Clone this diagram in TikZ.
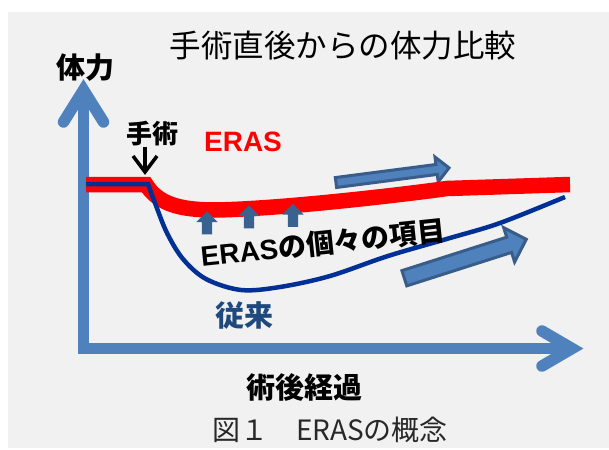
\documentclass[tikz,border=0pt]{standalone}
\usepackage{fontspec}
\setmainfont{Liberation Sans}
\newfontfamily\jp{Noto Sans CJK JP}
\usetikzlibrary{shapes.arrows}

\definecolor{panel}{RGB}{241,241,241}
\definecolor{axisblue}{RGB}{79,129,189}
\definecolor{edgeblue}{RGB}{56,93,138}
\definecolor{itemblue}{RGB}{58,98,145}
\definecolor{curveblue}{RGB}{0,48,150}
\definecolor{convblue}{RGB}{31,73,125}
\definecolor{captext}{RGB}{40,40,40}

\begin{document}
\begin{tikzpicture}[x=1pt, y=-1pt,
    lbl/.style = {inner sep=0pt, font=\jp\bfseries\fontsize{29}{29}\selectfont},
    axis/.style = {draw=axisblue, line width=11.5pt, miter limit=20},
    erasline/.style = {draw=red, line width=15.5pt},
    convline/.style = {draw=curveblue, line width=4.5pt},
    cutline/.style = {draw=black, line width=3.5pt},
    trend/.style = {single arrow, fill=axisblue, draw=edgeblue, line width=3pt, inner xsep=0pt},
    itemarrow/.style = {single arrow, fill=itemblue, inner xsep=0pt, inner ysep=5pt,
        single arrow head extend=5.5pt, minimum height=23pt, rotate=90}]
    \useasboundingbox (0,0) rectangle (609,449);
    \fill[white] (0,0) rectangle (609,449);
    \fill[panel] (8,12) rectangle (609,448);
    % axes
    \draw[axis] (83.5,92) -- (83.5,348.5) -- (570,348.5);
    \draw[axis, line cap=round] (63.5,122) -- (83.5,90) -- (103.5,122);
    \draw[axis, line cap=round] (542,331) -- (572,348.5) -- (542,366);
    % trend arrows
    \node[trend, minimum height=114pt, inner ysep=3.5pt, single arrow head extend=7.5pt, rotate=7.4] (trendup) at (390,175.5) {};
    \node[trend, minimum height=128pt, inner ysep=6.5pt, single arrow head extend=10pt, rotate=17.7] (trenddown) at (461.5,260) {};
    % curves
    \draw[erasline] (86,184.5) -- (146,184.5) .. controls (158,204) and (180,210) .. (215,210)
        .. controls (280,209) and (400,195) .. (447,188.5) -- (570,184.5);
    \draw[convline] (86,184) -- plot[smooth, tension=0.55] coordinates {(148,184) (155,203) (167,233) (183,259)
        (206,279) (241,290) (280,287) (330,276) (388,256) (450,238) (500,223) (565,197)};
    \foreach \x/\y [count=\i] in {207/225.5, 249/219.5, 293/218}
        \node[itemarrow] (item\i) at (\x,\y) {};
    % labels
    \node[lbl, font=\jp\fontsize{31.5}{32}\selectfont] (title) at (343,46) {手術直後からの体力比較};
    \node[lbl] (ylabel) at (85,68) {体力};
    \node[lbl] (xlabel) at (304,387) {術後経過};
    \node[lbl, text=convblue] (conv) at (244,316) {従来};
    \node[lbl, font=\jp\bfseries\fontsize{26}{26}\selectfont] (surgery) at (152,134) {手術};
    \coordinate (cut) at (145,172);
    \draw[cutline] (surgery.south -| cut) -- (cut);
    \draw[cutline] ([shift={(-12,-16)}]cut) -- (cut) -- ([shift={(12,-16)}]cut);
    \node[inner sep=0pt, text=red, font=\bfseries\fontsize{28}{28}\selectfont] (eras) at (243,142) {ERAS};
    \node[inner sep=0pt, rotate=6, font=\bfseries\fontsize{28}{28}\selectfont] (items) at (323,243) {ERAS{\jp の個々の項目}};
    \node[inner sep=0pt, text=captext, font=\jp\fontsize{28}{28}\selectfont] (caption) at (330,430) {図１　ERASの概念};
\end{tikzpicture}
\end{document}
